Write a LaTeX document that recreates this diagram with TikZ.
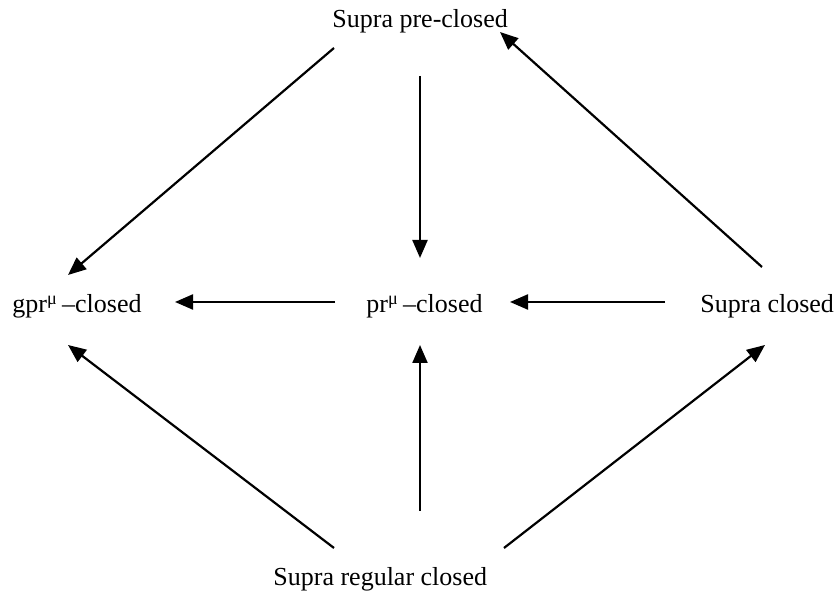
\documentclass[tikz,border=0pt]{standalone}
\usepackage{fontspec}
\setmainfont{Liberation Serif}
\usetikzlibrary{arrows.meta, positioning}
\definecolor{mainBlack}{gray}{0}

\begin{document}
\begin{tikzpicture}[x=0.5pt, y=-0.5pt,
    lbl/.style={inner sep=0pt, anchor=base west, font=\fontsize{13}{16}\selectfont},
    arr/.style={-{Triangle[length=9pt, width=7.5pt]}, line width=1.1pt, mainBlack}]
    \useasboundingbox (0,0) rectangle (837,597);

    \node[lbl] (pre) at (332,28) {Supra pre-closed};
    \node[lbl] (gpr) at (12,313) {gpr\textsuperscript{μ}\,–closed};
    \node[lbl] (pr)  at (366,313) {pr\textsuperscript{μ}\,–closed};
    \node[lbl] (sc)  at (700,313) {Supra closed};
    \node[lbl] (src) at (273,586) {Supra regular closed};

    % top
    \draw[arr] ([shift={(2,20)}]pre.base west) -- ([shift={(56,-38)}]gpr.base west);
    \draw[arr] ([shift={(88,48)}]pre.base west) -- ([shift={(54,-55)}]pr.base west);
    \draw[arr] ([shift={(62,-46)}]sc.base west) -- ([shift={(168,4)}]pre.base west);

    % middle
    \draw[arr] ([shift={(-31,-11)}]pr.base west) -- ([shift={(163,-11)}]gpr.base west);
    \draw[arr] ([shift={(-35,-11)}]sc.base west) -- ([shift={(144,-11)}]pr.base west);

    % bottom
    \draw[arr] ([shift={(61,-38)}]src.base west) -- ([shift={(56,32)}]gpr.base west);
    \draw[arr] ([shift={(147,-75)}]src.base west) -- ([shift={(54,32)}]pr.base west);
    \draw[arr] ([shift={(231,-38)}]src.base west) -- ([shift={(65,32)}]sc.base west);
\end{tikzpicture}
\end{document}
